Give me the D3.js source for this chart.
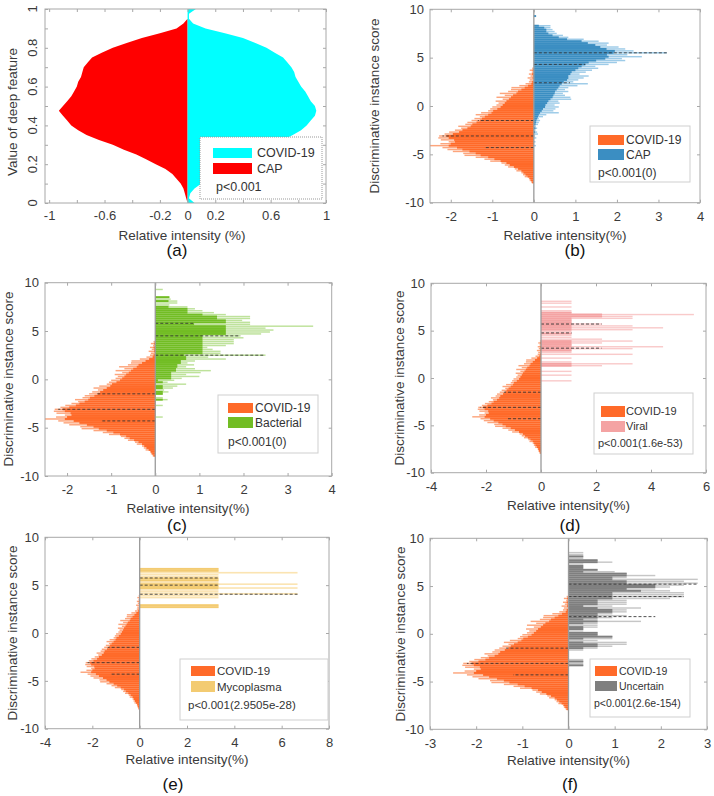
<!DOCTYPE html>
<html><head><meta charset="utf-8">
<script src="https://cdn.jsdelivr.net/npm/d3@7"></script>
<style>body{margin:0;background:#fff} svg text{font-family:"Liberation Sans",Arial,Helvetica,sans-serif}</style>
</head><body><script>
// ---------------- DATA ----------------
// Panel (a): value of deep feature (0..1 step 0.025) vs relative intensity
const aDepth = d3.range(0, 41).map(i => i / 40);
const aCovid = [0.05,0.01,0.02,0.05,0.10,0.13,0.17,0.23,0.30,0.37,
                0.45,0.54,0.62,0.69,0.76,0.82,0.86,0.89,0.92,0.93,
                0.92,0.89,0.87,0.85,0.82,0.80,0.78,0.77,0.75,0.72,
                0.69,0.63,0.57,0.49,0.40,0.27,0.13,0.04,0.01,0.01,0.06];
const aCap   = [0.00,0.01,0.02,0.03,0.05,0.08,0.11,0.16,0.23,0.30,
                0.37,0.46,0.54,0.64,0.73,0.79,0.84,0.87,0.90,0.93,
                0.90,0.87,0.84,0.82,0.80,0.79,0.77,0.76,0.75,0.72,
                0.69,0.62,0.54,0.44,0.33,0.20,0.08,0.03,0.00,0.00,0.00];
const aXTicks = [-1,-0.8,-0.6,-0.4,-0.2,0,0.2,0.4,0.6,0.8,1];
const aXLabels = ["-1","","-0.6","","-0.2","0","0.2","","0.6","","1"];
const aYTicks = [0,0.1,0.2,0.3,0.4,0.5,0.6,0.7,0.8,0.9,1];
const aYLabels = ["0","","0.2","","0.4","","0.6","","0.8","","1"];

// Histogram bins: width 0.2, given by the centre of the first bin
const binStep = 0.2;
const covidStart = -7.9;
const covidDark = [0.04,0.07,0.10,0.15,0.20,0.25,0.30,0.38,0.48,0.58,
                   0.66,0.80,0.95,1.10,1.28,1.40,1.55,1.72,1.85,2.05,
                   2.00,1.90,1.92,2.05,2.10,1.95,1.80,1.72,1.60,1.52,
                   1.48,1.38,1.30,1.25,1.18,1.10,1.02,0.98,0.88,0.80,
                   0.75,0.70,0.66,0.60,0.55,0.50,0.42,0.38,0.30,0.22,
                   0.14,0.06,0.04,0,0.03,0.02,0.04,0,0.03,0];
const covidLight = [0.06,0.10,0.12,0.22,0.26,0.30,0.42,0.46,0.62,0.70,
                    0.78,1.05,1.19,1.40,1.67,1.70,1.95,2.08,2.20,2.50,
                    2.25,2.05,2.24,2.30,2.28,2.15,2.04,1.90,1.75,1.82,
                    1.65,1.60,1.50,1.43,1.30,1.40,1.27,1.10,1.05,1.00,
                    0.90,0.85,0.92,0.75,0.90,0.70,0.82,0.62,0.55,0.54,
                    0.35,0.20,0.12,0.10,0.15,0.08,0.12,0.05,0.10,0.04];
const covidQuart = [[-1.5,1.35],[-3.1,2.2],[-4.3,1.2]];

const capStart = -4.1;
const capDark = [0,0,0,0,0,0,0,0.03,0,0.04,
                 0,0.04,0.05,0.06,0.08,0.10,0.12,0.15,0.19,0.22,
                 0.27,0.28,0.32,0.35,0.40,0.45,0.47,0.50,0.51,0.55,
                 0.59,0.62,0.67,0.72,0.80,0.83,0.83,0.88,0.91,1.00,
                 1.07,1.15,1.24,1.32,1.50,1.72,1.80,1.76,1.92,1.95,
                 1.75,1.60,1.48,1.30,1.15,0.80,0.60,0.45,0.35,0.30,
                 0.30,0.25,0.12,0,0,0,0,0.05,0];
const capLight = [0.05,0,0.04,0,0.06,0.03,0.10,0.08,0.04,0.08,
                  0.05,0.10,0.12,0.15,0.12,0.22,0.30,0.60,0.47,0.52,
                  0.60,0.50,0.62,0.59,0.90,0.88,0.75,0.70,0.83,0.75,
                  0.83,1.05,1.30,0.95,1.07,1.20,1.32,1.10,1.25,1.40,
                  1.55,1.48,1.80,2.00,2.20,2.12,2.60,2.25,3.20,2.40,
                  2.20,2.04,1.76,1.80,1.56,1.20,0.83,0.70,0.55,0.50,
                  0.45,0.40,0.40,0,0,0,0,0.06,0];
const capQuart = [[5.5,3.2],[4.3,1.24],[2.4,0.87]];

const bactStart = -3.9;
const bactDark = [0,0,0,0,0,0,0,0,0,0.17,
                  0,0,0.17,0.17,0,0.17,0.17,0,0.17,0.06,
                  0.36,0.36,0.36,0.36,0.47,0.47,0.50,0.50,0.58,0.58,
                  0.70,0.70,0.66,1.07,1.07,1.07,1.07,1.07,1.07,1.07,
                  1.07,1.07,1.07,1.60,1.60,1.60,1.60,1.60,0.88,1.60,
                  1.60,1.40,1.40,1.07,0.73,0.73,0.73,0.30,0,0,
                  0.30,0,0.32,0,0,0,0,0];
const bactLight = [0.17,0,0,0,0,0,0.17,0,0,0.28,
                   0.17,0,0.17,0.30,0.20,0.40,0.50,0.70,0.28,0.43,
                   0.60,1.00,0.70,1.03,1.26,0.90,0.70,0.88,0.73,0.90,
                   1.60,1.20,2.50,1.48,1.48,1.30,1.18,1.60,1.78,1.78,
                   1.78,2.00,1.93,2.40,2.60,2.68,2.50,3.58,2.15,2.15,
                   1.97,2.15,2.15,1.60,1.33,1.07,0.90,0.73,0.32,0.50,
                   0.50,0.35,0.32,0,0,0,0.17,0];
const bactQuart = [[5.8,0.88],[4.5,1.93],[2.5,2.49]];

const viralStart = -0.5;
const viralDark = [0,0,0,0,0,0,0,0,0,1.11,
                   1.11,0,0,0,0,0,0,1.11,1.11,1.11,
                   1.11,1.11,1.11,0,0,0,1.11,0,1.11,1.11,
                   1.11,1.11,1.11,1.11,1.11,2.22,2.22,1.11,0,0,
                   0,0,0,0];
const viralLight = [0,1.11,0,0,1.11,0,1.11,0,0,2.22,
                    3.33,1.11,0,1.11,0,3.33,1.11,1.11,3.33,4.44,
                    1.11,2.22,3.33,2.22,1.11,1.11,1.11,1.11,3.33,4.44,
                    3.33,2.22,1.11,1.11,3.33,3.33,5.56,1.11,1.11,0,
                    1.11,0,1.11,1.11];
const viralQuart = [[5.7,2.2],[4.76,1.11],[3.15,2.2]];

const mycoStart = 2.7;
const mycoDark = [3.33,3.33,0,0,0,0,0,0,0,0,
                  3.33,3.33,3.33,0,3.33,3.33,0,0,0,3.33,3.33,0];
const mycoLight = [3.33,3.33,0,0,0,3.33,3.33,6.67,3.33,3.33,
                   6.67,3.33,6.67,3.33,3.33,3.33,3.33,3.33,6.67,3.33,3.33,0];
const mycoQuart = [[5.75,3.33],[5.0,3.33],[4.05,6.67]];

const uncStart = -3.3;
const uncDark = [0.32,0,0.32,0,0,0,0,0,0,0.32,
                 0.63,0.63,0.32,0,0.32,0.95,0.63,0.63,0,0.32,
                 0.32,0,0.32,0.63,0.32,0.63,0.63,0.63,0.95,0.95,
                 0.63,0.32,0.63,0.63,0.63,0.95,0.95,0.95,0.95,1.57,
                 1.26,1.88,1.88,1.26,1.26,0.95,0.95,1.26,1.26,0.32,
                 0.63,0.32,0.32,0,0.63,0.63,0,0.32,0,0];
const uncLight = [0.32,0.32,0.32,0.32,0,0,0,0,0.32,0.63,
                  0.95,1.26,1.26,0.63,0.95,0.95,0.63,0.63,0.32,0.32,
                  0.63,0.63,0.63,1.57,0.63,0.95,1.26,0.95,1.26,1.26,
                  1.57,0.95,1.26,1.26,1.26,2.20,2.50,2.50,2.50,2.20,
                  1.88,2.20,2.50,2.80,2.50,2.80,1.26,1.88,1.26,1.00,
                  0.63,0.32,0.32,0.32,0.95,0.63,0.32,0.32,0.32,0.32];
const uncQuart = [[5.2,2.8],[3.9,2.5],[1.8,1.88]];

const scoreTicks = [-10,-5,0,5,10];

// ---------------- STYLE ----------------
const BOX = '#a8a8a8', TXT = '#3a3a3a';
const C = {
  covid:['#ff6a29','#fda57c'], cap:['#3b8ec2','#9dcbe8'], bact:['#72bd24','#bee29b'],
  viral:['#f4a3a3','#f9caca'], myco:['#f3cb72','#fbe4b2'], unc:['#7f7f7f','#c6c6c6']
};

const svg = d3.select('body').append('svg').attr('width',714).attr('height',796);

function axes(g, x, y, p, xt, yt, xl, yl, rotY) {
  g.append('rect').attr('x',p.l).attr('y',p.t).attr('width',p.r-p.l).attr('height',p.b-p.t)
    .attr('fill','none').attr('stroke',BOX).attr('stroke-width',1);
  const fmtX = xl ? (d,i)=>xl[i] : d=>String(d);
  const fmtY = yl ? (d,i)=>yl[i] : d=>String(d);
  const style = s => { s.select('.domain').remove(); s.selectAll('line').attr('stroke',BOX);
    s.selectAll('text').attr('fill',TXT).style('font-size','13px').style('font-family','"Liberation Sans",Arial,sans-serif'); };
  g.append('g').attr('transform',`translate(0,${p.b})`)
    .call(d3.axisBottom(x).tickValues(xt).tickSize(-3).tickPadding(p.xpad||9).tickFormat(fmtX)).call(style);
  g.append('g').attr('transform',`translate(0,${p.t})`)
    .call(d3.axisTop(x).tickValues(xt).tickSize(-3).tickFormat('')).call(style);
  g.append('g').attr('transform',`translate(${p.l},0)`)
    .call(d3.axisLeft(y).tickValues(yt).tickSize(-3).tickPadding(6).tickFormat(rotY ? '' : fmtY)).call(style);
  g.append('g').attr('transform',`translate(${p.r},0)`)
    .call(d3.axisRight(y).tickValues(yt).tickSize(-3).tickFormat('')).call(style);
  if (rotY) {
    yt.forEach((v,i)=>{ if(!fmtY(v,i)) return;
      g.append('text').attr('transform',`translate(${p.l-13},${y(v)}) rotate(-90)`)
        .attr('text-anchor','middle').attr('dy','0.35em').attr('fill',TXT).style('font-size','13px').text(fmtY(v,i)); });
  }
}

function labels(g, p, xlab, ylab) {
  g.append('text').attr('x',p.xlx).attr('y',p.xly).attr('dy','0.35em').attr('text-anchor','middle')
    .attr('fill',TXT).style('font-size','13.5px').text(xlab);
  g.append('text').attr('transform',`translate(${p.ylx},${p.yly}) rotate(-90)`).attr('dy','0.35em')
    .attr('text-anchor','middle').attr('fill',TXT).style('font-size','13.5px').text(ylab);
  g.append('text').attr('x',p.px).attr('y',p.py).attr('dy','0.35em').attr('text-anchor','middle')
    .attr('fill','#111').style('font-size','17px').text(p.letter);
}

function hist(g, x, y, start, dark, light, sign, col, lf) {
  const h = Math.abs(y(0) - y(binStep));
  const bar = (sel, arr, frac, fill) => sel.selectAll(null).data(arr).enter().append('rect')
    .attr('x', d => Math.min(x(0), x(sign*d)))
    .attr('width', d => Math.abs(x(sign*d) - x(0)))
    .attr('y', (d,i) => y(start + i*binStep) - h*frac/2)
    .attr('height', h*frac).attr('fill', fill);
  bar(g.append('g'), light, lf || 0.75, col[1]);
  bar(g.append('g'), dark, 1.02, col[0]);
}

function quart(g, x, y, q, sign) {
  g.selectAll(null).data(q).enter().append('line')
    .attr('x1', x(0)).attr('x2', d => x(sign*d[1]))
    .attr('y1', d => y(d[0])).attr('y2', d => y(d[0]))
    .attr('stroke','#333').attr('stroke-width',1).attr('stroke-dasharray','3,2').attr('opacity',0.85);
}

function legend(g, L, items, ptxt) {
  g.append('rect').attr('x',L.x0).attr('y',L.y0).attr('width',L.x1-L.x0).attr('height',L.y1-L.y0)
    .attr('fill','#fff').attr('stroke', L.dot ? '#999' : '#cfcfcf').attr('stroke-width',1)
    .attr('stroke-dasharray', L.dot ? '1,1' : null);
  items.forEach((it,i)=>{
    g.append('rect').attr('x',L.sx0).attr('y',L.rows[i][0]).attr('width',L.sx1-L.sx0)
      .attr('height',L.rows[i][1]-L.rows[i][0]).attr('fill',it[1]);
    g.append('text').attr('x',L.tx).attr('y',(L.rows[i][0]+L.rows[i][1])/2).attr('dy','0.35em')
      .attr('fill','#333').style('font-size',L.fs+'px').text(it[0]);
  });
  g.append('text').attr('x',L.px).attr('y',L.py).attr('dy','0.35em').attr('fill','#333')
    .style('font-size',L.fs+'px').text(ptxt);
}

// ---------------- PANEL (a) ----------------
{
  const p = {l:45,r:326,t:9,b:203,xpad:7.5,xlx:182,xly:235,ylx:12,yly:112,px:177,py:250,letter:'(a)'};
  const x = d3.scaleLinear().domain([-1.03,1]).range([p.l,p.r]);
  const y = d3.scaleLinear().domain([0,1]).range([p.b,p.t]);
  const g = svg.append('g');
  const pts = d3.zip(aDepth, aCap, aCovid);
  g.append('path').datum(pts).attr('fill','#ff0000')
    .attr('d', d3.area().y(d=>y(d[0])).x0(x(0)).x1(d=>x(-d[1])));
  g.append('path').datum(pts).attr('fill','#00ffff')
    .attr('d', d3.area().y(d=>y(d[0])).x0(x(0)).x1(d=>x(d[2])));
  axes(g, x, y, p, aXTicks, aYTicks, aXLabels, aYLabels, true);
  labels(g, p, 'Relative intensity (%)', 'Value of deep feature');
  legend(g, {x0:200,x1:322,y0:137,y1:199,dot:true,sx0:213,sx1:252,rows:[[148,158],[163,174]],tx:257,px:216,py:187,fs:12.5},
    [['COVID-19','#00ffff'],['CAP','#ff0000']], 'p<0.001');
}

// ---------------- PANELS (b)-(f) ----------------
const panels = [
  {p:{l:430,r:700,t:9.3,b:202.7,xlx:565,xly:235,ylx:374,yly:106,px:575,py:250,letter:'(b)'},
   dom:[-2.5,4], xt:[-2,-1,0,1,2,3,4], key:'cap', name:'CAP', start:capStart, dark:capDark, light:capLight, q:capQuart,
   L:{x0:590,x1:690,y0:126,y1:182,sx0:598,sx1:624,rows:[[135,145],[149,160]],tx:626,px:598,py:173,fs:12}, pt:'p<0.001(0)'},
  {p:{l:45,r:331.7,t:282.7,b:476,xlx:188,xly:508,ylx:8,yly:379,px:177,py:525,letter:'(c)'},
   dom:[-2.5,4], xt:[-2,-1,0,1,2,3,4], key:'bact', name:'Bacterial', start:bactStart, dark:bactDark, light:bactLight, q:bactQuart,
   L:{x0:218,x1:318,y0:395,y1:453,sx0:228,sx1:253,rows:[[403,413],[417,428]],tx:255,px:228,py:442,fs:12}, pt:'p<0.001(0)'},
  {p:{l:431,r:706,t:283.3,b:472.7,xlx:568.5,xly:505,ylx:399,yly:378,px:570,py:525,letter:'(d)'},
   dom:[-4,6], xt:[-4,-2,0,2,4,6], key:'viral', name:'Viral', start:viralStart, dark:viralDark, light:viralLight, q:viralQuart,
   L:{x0:594,x1:693,y0:393,y1:454,sx0:601,sx1:625,rows:[[406,417],[421,432]],tx:626,px:598,py:443,fs:11}, pt:'p<0.001(1.6e-53)'},
  {p:{l:45,r:329,t:537.3,b:728.7,xlx:187,xly:759,ylx:12,yly:633,px:173,py:784,letter:'(e)'},
   dom:[-4,8], xt:[-4,-2,0,2,4,6,8], key:'myco', name:'Mycoplasma', start:mycoStart, dark:mycoDark, light:mycoLight, q:mycoQuart, lf:0.85,
   L:{x0:180,x1:328,y0:659,y1:720,sx0:191,sx1:215,rows:[[666,676],[681,692]],tx:217,px:188,py:705,fs:11.5}, pt:'p<0.001(2.9505e-28)'},
  {p:{l:430,r:707,t:538.3,b:729.3,xlx:568.5,xly:760,ylx:400,yly:634,px:570,py:784,letter:'(f)'},
   dom:[-3,3], xt:[-3,-2,-1,0,1,2,3], key:'unc', name:'Uncertain', start:uncStart, dark:uncDark, light:uncLight, q:uncQuart,
   L:{x0:590,x1:690,y0:659,y1:717,sx0:595,sx1:617,rows:[[666,676],[681,691]],tx:619,px:594,py:703,fs:10.5}, pt:'p<0.001(2.6e-154)'}
];

panels.forEach(P => {
  const p = P.p;
  const x = d3.scaleLinear().domain(P.dom).range([p.l,p.r]);
  const y = d3.scaleLinear().domain([-10,10]).range([p.b,p.t]);
  const g = svg.append('g');
  hist(g, x, y, covidStart, covidDark, covidLight, -1, C.covid);
  hist(g, x, y, P.start, P.dark, P.light, 1, C[P.key], P.lf);
  quart(g, x, y, covidQuart, -1);
  quart(g, x, y, P.q, 1);
  g.append('line').attr('x1',x(0)).attr('x2',x(0)).attr('y1',p.t).attr('y2',p.b)
    .attr('stroke','#9a9a9a').attr('stroke-width',1.3);
  axes(g, x, y, p, P.xt, scoreTicks, null, null, false);
  labels(g, p, 'Relative intensity(%)', 'Discriminative instance score');
  legend(g, P.L, [['COVID-19',C.covid[0]],[P.name,C[P.key][0]]], P.pt);
});
</script></body></html>
